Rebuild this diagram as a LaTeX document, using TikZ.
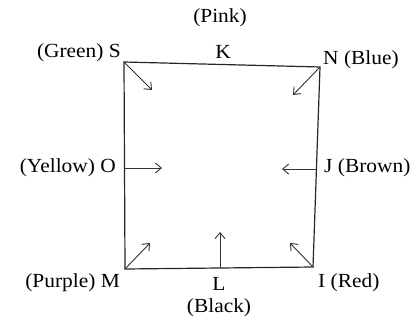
\documentclass[tikz,border=0pt]{standalone}
\usepackage{fontspec}
\setmainfont{Liberation Serif}
\usetikzlibrary{arrows.meta}
\begin{document}
\begin{tikzpicture}[x=1pt,y=1pt,
    lbl/.style={font=\fontsize{20}{22}\selectfont, inner sep=0pt, xscale=1.07, transform shape},
    side/.style={line width=1.2pt, black!85},
    dir/.style={line width=0.9pt, black!80, -{Straight Barb[length=6pt,width=10pt]}}]
    \useasboundingbox (0,0) rectangle (411,322);
    % corners of the square
    \coordinate (S) at (124,260);
    \coordinate (N) at (320,255);
    \coordinate (I) at (313,55);
    \coordinate (M) at (125,53);
    \coordinate (O) at (125,154);
    \coordinate (J) at (316,153);
    \coordinate (L) at (220,54);
    \draw[side] (S) -- (N) -- (I) -- (M) -- cycle;
    % arrow ends
    \coordinate (sTip) at (152,232);
    \coordinate (nTip) at (293,227);
    \coordinate (oTip) at (162,154);
    \coordinate (jTip) at (282,153);
    \coordinate (mTip) at (150,79);
    \coordinate (lTip) at (220,90);
    \coordinate (iTip) at (290,79);
    \draw[dir] (S) -- (sTip);
    \draw[dir] (N) -- (nTip);
    \draw[dir] (O) -- (oTip);
    \draw[dir] (J) -- (jTip);
    \draw[dir] (M) -- (mTip);
    \draw[dir] (L) -- (lTip);
    \draw[dir] (I) -- (iTip);
    % labels
    \node[lbl] (pink) at (220,304) {(Pink)};
    \node[lbl] (kLbl) at (223,270) {K};
    \node[lbl, anchor=east] (sLbl) at (121,269) {(Green) S};
    \node[lbl, anchor=west] (nLbl) at (323,262) {N (Blue)};
    \node[lbl, anchor=east] (oLbl) at (116,154) {(Yellow) O};
    \node[lbl, anchor=west] (jLbl) at (324,154) {J (Brown)};
    \node[lbl, anchor=east] (mLbl) at (120,39) {(Purple) M};
    \node[lbl] (lLbl) at (219,38) {L};
    \node[lbl] (black) at (219,14) {(Black)};
    \node[lbl, anchor=west] (iLbl) at (318,39) {I (Red)};
\end{tikzpicture}
\end{document}
